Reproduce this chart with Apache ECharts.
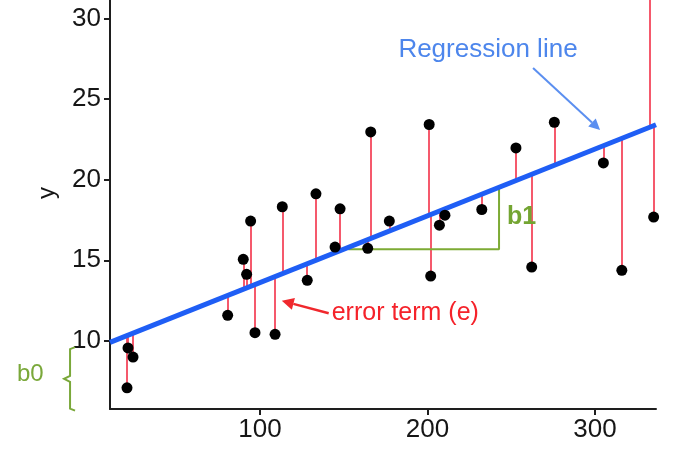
<!DOCTYPE html>
<html><head><meta charset="utf-8">
<script src="https://cdn.jsdelivr.net/npm/echarts@6/dist/echarts.min.js"></script>
<style>html,body{margin:0;padding:0;background:#fff}#c{width:680px;height:453px}</style>
</head><body><div id="c"></div>
<script>
// observed points (x, y)
const xValues = [20.6, 21.2, 24.2, 80.7, 97.0, 109.0, 90.0, 92.0, 94.4, 113.3, 128.2, 133.4, 147.8, 144.8, 164.3, 177.2, 201.0, 210.4, 207.1, 232.4, 252.8, 201.9, 166.1, 275.7, 305.0, 335.0, 262.2, 316.0, 332.4];
const yValues = [7.09, 9.57, 9.0, 11.59, 10.51, 10.41, 15.06, 14.13, 17.43, 18.32, 13.76, 19.12, 18.19, 15.82, 15.74, 17.43, 23.42, 17.80, 17.18, 18.15, 21.97, 14.02, 22.96, 23.56, 21.04, 17.68, 14.58, 14.38, 34.0];
// regression line
const interceptB0 = 9.48;
const slopeB1 = 0.0414;
// axis extents and ticks
const xRange = [10.45, 336.4];
const yRange = [5.78, 31.14];
const xTicks = [100, 200, 300];
const yTicks = [10, 15, 20, 25, 30];
// b1 step (run / rise)
const b1StepX = [152.7, 242.7];
const b1StepY = [15.68, 19.45];

const fit = x => interceptB0 + slopeB1 * x;
const FONT = 'Liberation Sans, Arial, Helvetica, sans-serif';
const chart = echarts.init(document.getElementById('c'), null, {renderer: 'canvas'});

const axisLineStyle = {color: '#1e1e1e', width: 2};
chart.setOption({
  animation: false,
  backgroundColor: '#fff',
  grid: {left: 110, right: 24, top: 0, bottom: 44},
  xAxis: {
    type: 'value', min: xRange[0], max: xRange[1],
    axisLine: {show: true, lineStyle: axisLineStyle},
    axisTick: {show: true, customValues: xTicks, length: 6, lineStyle: axisLineStyle},
    axisLabel: {customValues: xTicks, fontSize: 26, color: '#161616', fontFamily: FONT, margin: 8},
    splitLine: {show: false}
  },
  yAxis: {
    type: 'value', min: yRange[0], max: yRange[1],
    axisLine: {show: true, lineStyle: axisLineStyle},
    axisTick: {show: true, customValues: yTicks, length: 6, lineStyle: axisLineStyle},
    axisLabel: {customValues: yTicks, fontSize: 26, color: '#161616', fontFamily: FONT, margin: 9},
    splitLine: {show: false}
  },
  series: [
    {
      type: 'lines', coordinateSystem: 'cartesian2d', silent: true, z: 1,
      lineStyle: {color: '#f4475c', width: 1.8, opacity: 1},
      data: xValues.map((x, i) => ({coords: [[x, yValues[i]], [x, fit(x)]]}))
    },
    {
      type: 'line', symbol: 'none', silent: true, z: 2,
      lineStyle: {color: '#7dab35', width: 2},
      data: [[b1StepX[0], b1StepY[0]], [b1StepX[1], b1StepY[0]], [b1StepX[1], b1StepY[1]]]
    },
    {
      type: 'line', symbol: 'none', silent: true, z: 3,
      lineStyle: {color: '#1f5ef5', width: 5},
      data: xRange.map(x => [x, fit(x)])
    },
    {
      type: 'scatter', symbolSize: 11, z: 4, clip: true,
      itemStyle: {color: '#000', opacity: 1},
      data: xValues.map((x, i) => [x, yValues[i]])
    }
  ]
});

// annotations anchored in data coordinates
const P = v => chart.convertToPixel({gridIndex: 0}, v);
function arrow(from, to, color, width, headLen, headHalf) {
  const a = P(from), b = P(to);
  const dx = b[0] - a[0], dy = b[1] - a[1];
  const len = Math.hypot(dx, dy), ux = dx / len, uy = dy / len;
  const bx = b[0] - ux * headLen, by = b[1] - uy * headLen;
  return [
    {type: 'line', shape: {x1: a[0], y1: a[1], x2: bx, y2: by}, style: {stroke: color, lineWidth: width}, z: 10},
    {type: 'polygon', shape: {points: [[b[0], b[1]], [bx - uy * headHalf, by + ux * headHalf], [bx + uy * headHalf, by - ux * headHalf]]}, style: {fill: color}, z: 10}
  ];
}
const regLabel = P([236.1, 28.05]);
const errLabel = P([142.8, 11.74]);
const b1Label = P([247.5, 17.7]);
const b0Label = P([-45.1, 7.9]);
const braceTop = P([-13.4, 9.62]);
const braceBot = P([-13.4, yRange[0] - 0.1]);
const braceMidY = (braceTop[1] + braceBot[1]) / 2;
const bx = braceTop[0];
const graphics = [
  {type: 'text', x: regLabel[0], y: regLabel[1], style: {text: 'Regression line', fill: '#4d86ec', font: '26px ' + FONT, align: 'center', verticalAlign: 'middle'}, z: 10},
  ...arrow([263.0, 26.93], [303.0, 23.08], '#5b8ff0', 2, 11, 5.5),
  {type: 'text', x: errLabel[0], y: errLabel[1], style: {text: 'error term (e)', fill: '#f5222a', font: '25px ' + FONT, align: 'left', verticalAlign: 'middle'}, z: 10},
  ...arrow([141.0, 11.72], [113.0, 12.49], '#f0282d', 2.5, 12, 6),
  {type: 'text', x: b1Label[0], y: b1Label[1], style: {text: 'b1', fill: '#74a532', font: 'bold 25px ' + FONT, align: 'left', verticalAlign: 'middle'}, z: 10},
  {type: 'text', x: b0Label[0], y: b0Label[1], style: {text: 'b0', fill: '#7aa83a', font: '24px ' + FONT, align: 'left', verticalAlign: 'middle'}, z: 10},
  {type: 'polyline', shape: {points: [[bx + 5, braceTop[1]], [bx, braceTop[1] + 2], [bx, braceMidY - 3], [bx - 6, braceMidY], [bx, braceMidY + 3], [bx, braceBot[1] - 2], [bx + 5, braceBot[1]]]}, style: {stroke: '#7aa83a', lineWidth: 2, fill: null}, z: 10},
  {type: 'text', x: 47, y: 193, rotation: Math.PI / 2, style: {text: 'y', fill: '#161616', font: '24px ' + FONT, align: 'center', verticalAlign: 'middle'}, z: 10}
];
chart.setOption({graphic: graphics});
</script>
</body></html>
